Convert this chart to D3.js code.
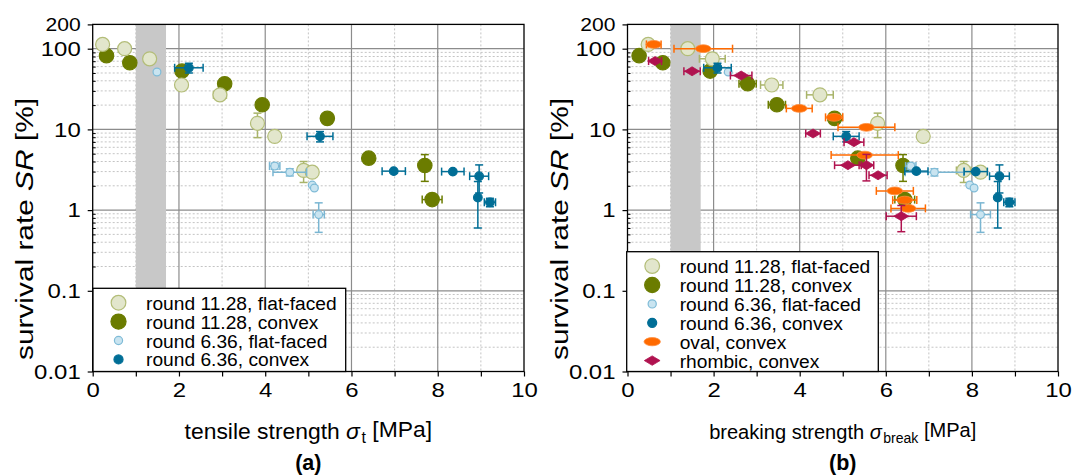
<!DOCTYPE html>
<html>
<head>
<meta charset="utf-8">
<script src="https://cdn.jsdelivr.net/npm/d3@7"></script>
<style>
  body { margin: 0; background: #fff; }
  svg { display: block; font-family: "Liberation Sans", Arial, sans-serif; }
</style>
</head>
<body>
<svg id="chart" width="1072" height="476"></svg>
<script>
// ---- Survival rate SR [%] of each tablet series ----
// round 11.28 mm, flat-faced
const srFlat1128     = [113, 100, 75, 35.5, 26.8, 11.9, 8.2, 3.1, 2.95];
const srFlat1128Err  = [0, 0, 0, 0, 0, 4, 0, 0.9, 0];
const tFlat1128      = [0.23, 0.74, 1.32, 2.06, 2.95, 3.82, 4.22, 4.89, 5.09];
const tFlat1128Err   = [0, 0, 0, 0, 0.15, 0, 0, 0, 0];
const bFlat1128      = [0.48, 1.40, 1.97, 3.35, 4.47, 5.81, 6.87, 7.81, 8.20];
const bFlat1128Err   = [0, 0, 0.30, 0.26, 0.31, 0, 0, 0.17, 0];

// round 11.28 mm, convex
const srConvex1128    = [82, 67, 52.8, 36.8, 20.2, 13.7, 4.4, 3.57, 1.35];
const srConvex1128Err = [0, 0, 0, 0, 0, 0, 0, 1.3, 0];
const tConvex1128     = [0.32, 0.86, 2.07, 3.06, 3.93, 5.44, 6.40, 7.70, 7.87];
const tConvex1128Err  = [0, 0, 0, 0, 0, 0, 0, 0, 0.23];
const bConvex1128     = [0.27, 0.82, 1.92, 2.79, 3.47, 4.81, 5.35, 6.40, 6.44];
const bConvex1128Err  = [0, 0, 0, 0.2, 0.2, 0, 0, 0, 0.23];

// round 6.36 mm, flat-faced
const srFlat636    = [51.4, 3.51, 2.95, 2.04, 1.88, 0.88];
const srFlat636Err = [0, 0.3, 0.3, 0, 0, 0.35];
const tFlat636     = [1.49, 4.22, 4.57, 5.09, 5.14, 5.24];
const tFlat636Err  = [0, 0.12, 0.39, 0, 0, 0.13];
const bFlat636     = [2.34, 6.58, 7.13, 7.95, 8.05, 8.20];
const bFlat636Err  = [0, 0.12, 0.68, 0, 0, 0.23];

// round 6.36 mm, convex
const srConvex636    = [58, 8.2, 3.04, 3.0, 2.63, 1.43, 1.25];
const srConvex636Err = [8, 1.2, 0, 0, 1.0, 0.83, 0.15];
const tConvex636     = [2.23, 5.27, 6.98, 8.35, 8.96, 8.93, 9.21];
const tConvex636Err  = [0.33, 0.30, 0.27, 0.26, 0.22, 0, 0.13];
const bConvex636     = [2.09, 5.08, 6.71, 8.09, 8.64, 8.60, 8.87];
const bConvex636Err  = [0.32, 0.30, 0.27, 0.27, 0.23, 0, 0.13];

// oval, convex (breaking strength only)
const srOval   = [113, 100, 18.2, 14.1, 10.6, 4.8, 1.73, 1.33, 1.05];
const bOval    = [0.61, 1.76, 3.99, 4.80, 5.55, 5.51, 6.21, 6.44, 6.52];
const bOvalErr = [0.17, 0.68, 0.30, 0.20, 0.66, 0.78, 0.43, 0.28, 0.40];

// rhombic, convex (breaking strength only)
const srRhombic    = [70.3, 52.5, 46.5, 8.9, 6.95, 3.6, 3.6, 2.7, 0.84];
const srRhombicErr = [0, 0, 0, 0, 0, 0, 1.3, 0, 0.3];
const bRhombic     = [0.64, 1.50, 2.64, 4.31, 5.26, 5.12, 5.55, 5.82, 6.36];
const bRhombicErr  = [0.15, 0.19, 0.25, 0.17, 0.23, 0.31, 0.17, 0.21, 0.35];

// axis ticks
const yMajorTicks = [0.01, 0.1, 1, 10, 100, 200];
const xMajorTicks = [0, 2, 4, 6, 8, 10];
const xMinorTicks = [1, 3, 5, 7, 9];
const bandRange = [1.0, 1.7];

// ---- styles of each series ----
const styles = {
  flat1128:   { label: "round 11.28, flat-faced", shape: "circle", r: 7,   fill: "#e2e6cc", stroke: "#b3bd78", err: "#a9b46a" },
  convex1128: { label: "round 11.28, convex",     shape: "circle", r: 7.2, fill: "#6b7c00", stroke: "#6b7c00", err: "#6b7c00" },
  flat636:    { label: "round 6.36, flat-faced",  shape: "circle", r: 3.9, fill: "#c9e4f0", stroke: "#7fbbd7", err: "#7ab6d2" },
  convex636:  { label: "round 6.36, convex",      shape: "circle", r: 4.3, fill: "#006e96", stroke: "#006e96", err: "#006e96" },
  oval:       { label: "oval, convex",            shape: "ellipse", rx: 7.8, ry: 3.9, fill: "#ff6a00", stroke: "#ff8c3a", err: "#ff6a00" },
  rhombic:    { label: "rhombic, convex",         shape: "diamond", rx: 7.5, ry: 4.5, fill: "#b0124f", stroke: "#b0124f", err: "#b0124f" }
};

function series(key, xs, xe, ys, ye) {
  return Object.assign({ key, pts: xs.map((v, i) => ({ x: v, xe: xe ? xe[i] : 0, y: ys[i], ye: ye ? ye[i] : 0 })) }, styles[key]);
}

const panelA = {
  x0: 92.7, x1: 524,
  xlabel: [["tensile strength ", null], ["σ", "it"], ["t", "sub"], [" [MPa]", null]],
  xlabelLen: 246,
  tag: "(a)",
  legend: { x: 93, y: 288.3, w: 252.7 },
  series: [
    series("convex1128", tConvex1128, tConvex1128Err, srConvex1128, srConvex1128Err),
    series("flat1128",   tFlat1128,   tFlat1128Err,   srFlat1128,   srFlat1128Err),
    series("flat636",    tFlat636,    tFlat636Err,    srFlat636,    srFlat636Err),
    series("convex636",  tConvex636,  tConvex636Err,  srConvex636,  srConvex636Err)
  ],
  legendKeys: ["flat1128", "convex1128", "flat636", "convex636"]
};

const panelB = {
  x0: 627.5, x1: 1058,
  xlabel: [["breaking strength ", null], ["σ", "it"], ["break", "sub"], [" [MPa]", null]],
  xlabelLen: 266,
  tag: "(b)",
  legend: { x: 626.7, y: 251.7, w: 251.6 },
  series: [
    series("convex1128", bConvex1128, bConvex1128Err, srConvex1128, srConvex1128Err),
    series("flat1128",   bFlat1128,   bFlat1128Err,   srFlat1128,   srFlat1128Err),
    series("flat636",    bFlat636,    bFlat636Err,    srFlat636,    srFlat636Err),
    series("convex636",  bConvex636,  bConvex636Err,  srConvex636,  srConvex636Err),
    series("oval",       bOval,       bOvalErr,       srOval,       null),
    series("rhombic",    bRhombic,    bRhombicErr,    srRhombic,    srRhombicErr)
  ],
  legendKeys: ["flat1128", "convex1128", "flat636", "convex636", "oval", "rhombic"]
};

const Y_TOP = 24.4, Y_BOT = 371.5;
const svg = d3.select("#chart");

// minor values between decades on the log axis
const yMinorTicks = [];
[0.01, 0.1, 1, 10].forEach(dec => {
  for (let k = 2; k <= 9; k++) yMinorTicks.push(+(k * dec).toPrecision(3));
});

function stretchText(sel, factor) {
  sel.each(function () {
    const len = this.getComputedTextLength();
    d3.select(this).attr("textLength", len * factor).attr("lengthAdjust", "spacingAndGlyphs");
  });
}

function drawMarker(g, st, cx, cy, scale) {
  const k = scale || 1;
  if (st.shape === "circle") {
    g.append("circle").attr("cx", cx).attr("cy", cy).attr("r", st.r * k)
      .attr("fill", st.fill).attr("stroke", st.stroke).attr("stroke-width", 1.2);
  } else if (st.shape === "ellipse") {
    g.append("ellipse").attr("cx", cx).attr("cy", cy).attr("rx", st.rx * k).attr("ry", st.ry * k)
      .attr("fill", st.fill).attr("stroke", st.stroke).attr("stroke-width", 0.8);
  } else {
    const rx = st.rx * k, ry = st.ry * k;
    g.append("path")
      .attr("d", `M${cx - rx},${cy}L${cx},${cy - ry}L${cx + rx},${cy}L${cx},${cy + ry}Z`)
      .attr("fill", st.fill).attr("stroke", st.stroke).attr("stroke-width", 0.8);
  }
}

function drawPanel(p) {
  const g = svg.append("g");
  const x = d3.scaleLinear().domain([0, 10]).range([p.x0, p.x1]);
  const y = d3.scaleLog().domain([0.01, 200]).range([Y_BOT, Y_TOP]);

  // grid: dotted minor lines, solid major lines
  const grid = g.append("g");
  grid.selectAll(".gxm").data(xMinorTicks).join("line")
    .attr("x1", d => x(d)).attr("x2", d => x(d)).attr("y1", Y_TOP).attr("y2", Y_BOT)
    .attr("stroke", "#c4c4c4").attr("stroke-width", 1).attr("stroke-dasharray", "2,2");
  grid.selectAll(".gym").data(yMinorTicks).join("line")
    .attr("y1", d => y(d)).attr("y2", d => y(d)).attr("x1", p.x0).attr("x2", p.x1)
    .attr("stroke", "#c4c4c4").attr("stroke-width", 1).attr("stroke-dasharray", "2,2");
  grid.selectAll(".gxM").data(xMajorTicks.slice(1, -1)).join("line")
    .attr("x1", d => x(d)).attr("x2", d => x(d)).attr("y1", Y_TOP).attr("y2", Y_BOT)
    .attr("stroke", "#8c8c8c").attr("stroke-width", 1.2);
  grid.selectAll(".gyM").data([0.1, 1, 10, 100]).join("line")
    .attr("y1", d => y(d)).attr("y2", d => y(d)).attr("x1", p.x0).attr("x2", p.x1)
    .attr("stroke", "#8c8c8c").attr("stroke-width", 1.2);

  // shaded strength band
  g.append("rect")
    .attr("x", x(bandRange[0])).attr("width", x(bandRange[1]) - x(bandRange[0]))
    .attr("y", Y_TOP).attr("height", Y_BOT - Y_TOP).attr("fill", "#c8c8c8");

  // data: error bars first, marker on top
  const capH = 4;
  p.series.forEach(s => {
    const sg = g.append("g");
    const eg = sg.append("g").attr("stroke", s.err).attr("stroke-width", 1.5).attr("fill", "none");
    s.pts.forEach(d => {
      const cx = x(d.x), cy = y(d.y);
      if (d.xe > 0) {
        const xa = x(d.x - d.xe), xb = x(d.x + d.xe);
        eg.append("line").attr("x1", xa).attr("x2", xb).attr("y1", cy).attr("y2", cy);
        eg.append("line").attr("x1", xa).attr("x2", xa).attr("y1", cy - capH).attr("y2", cy + capH);
        eg.append("line").attr("x1", xb).attr("x2", xb).attr("y1", cy - capH).attr("y2", cy + capH);
      }
      if (d.ye > 0) {
        const ya = y(d.y + d.ye), yb = y(d.y - d.ye);
        eg.append("line").attr("x1", cx).attr("x2", cx).attr("y1", ya).attr("y2", yb);
        eg.append("line").attr("x1", cx - capH).attr("x2", cx + capH).attr("y1", ya).attr("y2", ya);
        eg.append("line").attr("x1", cx - capH).attr("x2", cx + capH).attr("y1", yb).attr("y2", yb);
      }
    });
    s.pts.forEach(d => drawMarker(sg, s, x(d.x), y(d.y)));
  });

  // frame
  g.append("rect").attr("x", p.x0).attr("y", Y_TOP).attr("width", p.x1 - p.x0).attr("height", Y_BOT - Y_TOP)
    .attr("fill", "none").attr("stroke", "#000").attr("stroke-width", 1.3);

  // y axis: outward major ticks with labels, inward minor ticks
  const yAxis = g.append("g").attr("transform", `translate(${p.x0},0)`)
    .call(d3.axisLeft(y).tickValues(yMajorTicks).tickFormat(d => String(d)).tickSizeInner(5).tickSizeOuter(0).tickPadding(7));
  yAxis.select(".domain").remove();
  yAxis.selectAll(".tick line").attr("stroke-width", 1.2);
  yAxis.selectAll(".tick text").attr("font-size", d => d === 200 ? 18.5 : 21).attr("fill", "#000")
    .attr("font-family", "Liberation Sans, Arial, sans-serif");
  stretchText(yAxis.selectAll(".tick text"), 1.14);
  const yMinor = g.append("g").attr("transform", `translate(${p.x0},0)`)
    .call(d3.axisLeft(y).tickValues(yMinorTicks).tickFormat("").tickSizeInner(-3).tickSizeOuter(0));
  yMinor.select(".domain").remove();

  // x axis
  const xAxis = g.append("g").attr("transform", `translate(0,${Y_BOT})`)
    .call(d3.axisBottom(x).tickValues(xMajorTicks).tickFormat(d3.format("d")).tickSizeInner(5).tickSizeOuter(0).tickPadding(6));
  xAxis.select(".domain").remove();
  xAxis.selectAll(".tick line").attr("stroke-width", 1.2);
  xAxis.selectAll(".tick text").attr("font-size", 21).attr("fill", "#000")
    .attr("font-family", "Liberation Sans, Arial, sans-serif");
  stretchText(xAxis.selectAll(".tick text"), 1.14);
  const xMinor = g.append("g").attr("transform", `translate(0,${Y_BOT})`)
    .call(d3.axisBottom(x).tickValues(xMinorTicks).tickFormat("").tickSizeInner(5).tickSizeOuter(0));
  xMinor.select(".domain").remove();
  xMinor.selectAll(".tick line").attr("stroke-width", 1.2);

  // axis titles: font size chosen so the title spans its intended width
  const cx = (p.x0 + p.x1) / 2;
  const xt = g.append("text").attr("x", cx).attr("y", 439).attr("text-anchor", "middle")
    .attr("font-size", 21).attr("fill", "#000");
  p.xlabel.forEach(([txt, kind], i) => {
    const ts = xt.append("tspan").text(txt);
    if (kind === "it") ts.attr("font-style", "italic");
    if (kind === "sub") ts.attr("font-size", "0.7em").attr("dy", "0.25em").attr("dx", "0.1em");
    if (i > 0 && p.xlabel[i - 1][1] === "sub") ts.attr("dy", "-0.25em");
  });
  const natural = xt.node().getComputedTextLength();
  xt.attr("font-size", 21 * p.xlabelLen / natural);

  const yt = g.append("text")
    .attr("transform", `translate(${p.x0 - 60},229) rotate(-90)`)
    .attr("text-anchor", "middle").attr("font-size", 23).attr("fill", "#000");
  yt.append("tspan").text("survival rate ");
  yt.append("tspan").attr("font-style", "italic").text("SR");
  yt.append("tspan").text(" [%]");
  yt.attr("textLength", 262).attr("lengthAdjust", "spacingAndGlyphs");

  g.append("text").attr("x", cx).attr("y", 470).attr("text-anchor", "middle")
    .attr("font-size", 21.5).attr("font-weight", "bold").attr("fill", "#000").text(p.tag);

  // legend
  const rowH = 18.9;
  const L = p.legend;
  const lg = g.append("g");
  lg.append("rect").attr("x", L.x).attr("y", L.y).attr("width", L.w).attr("height", Y_BOT - L.y)
    .attr("fill", "#fff").attr("stroke", "#000").attr("stroke-width", 1.3);
  p.legendKeys.forEach((k, i) => {
    const st = styles[k];
    const ry = L.y + 14.4 + i * rowH;
    drawMarker(lg, st, L.x + 25.5, ry, 1.05);
    lg.append("text").attr("x", L.x + 53).attr("y", ry + 7).attr("font-size", 19.2).attr("fill", "#000").text(st.label);
  });
}

drawPanel(panelA);
drawPanel(panelB);
</script>
</body>
</html>
